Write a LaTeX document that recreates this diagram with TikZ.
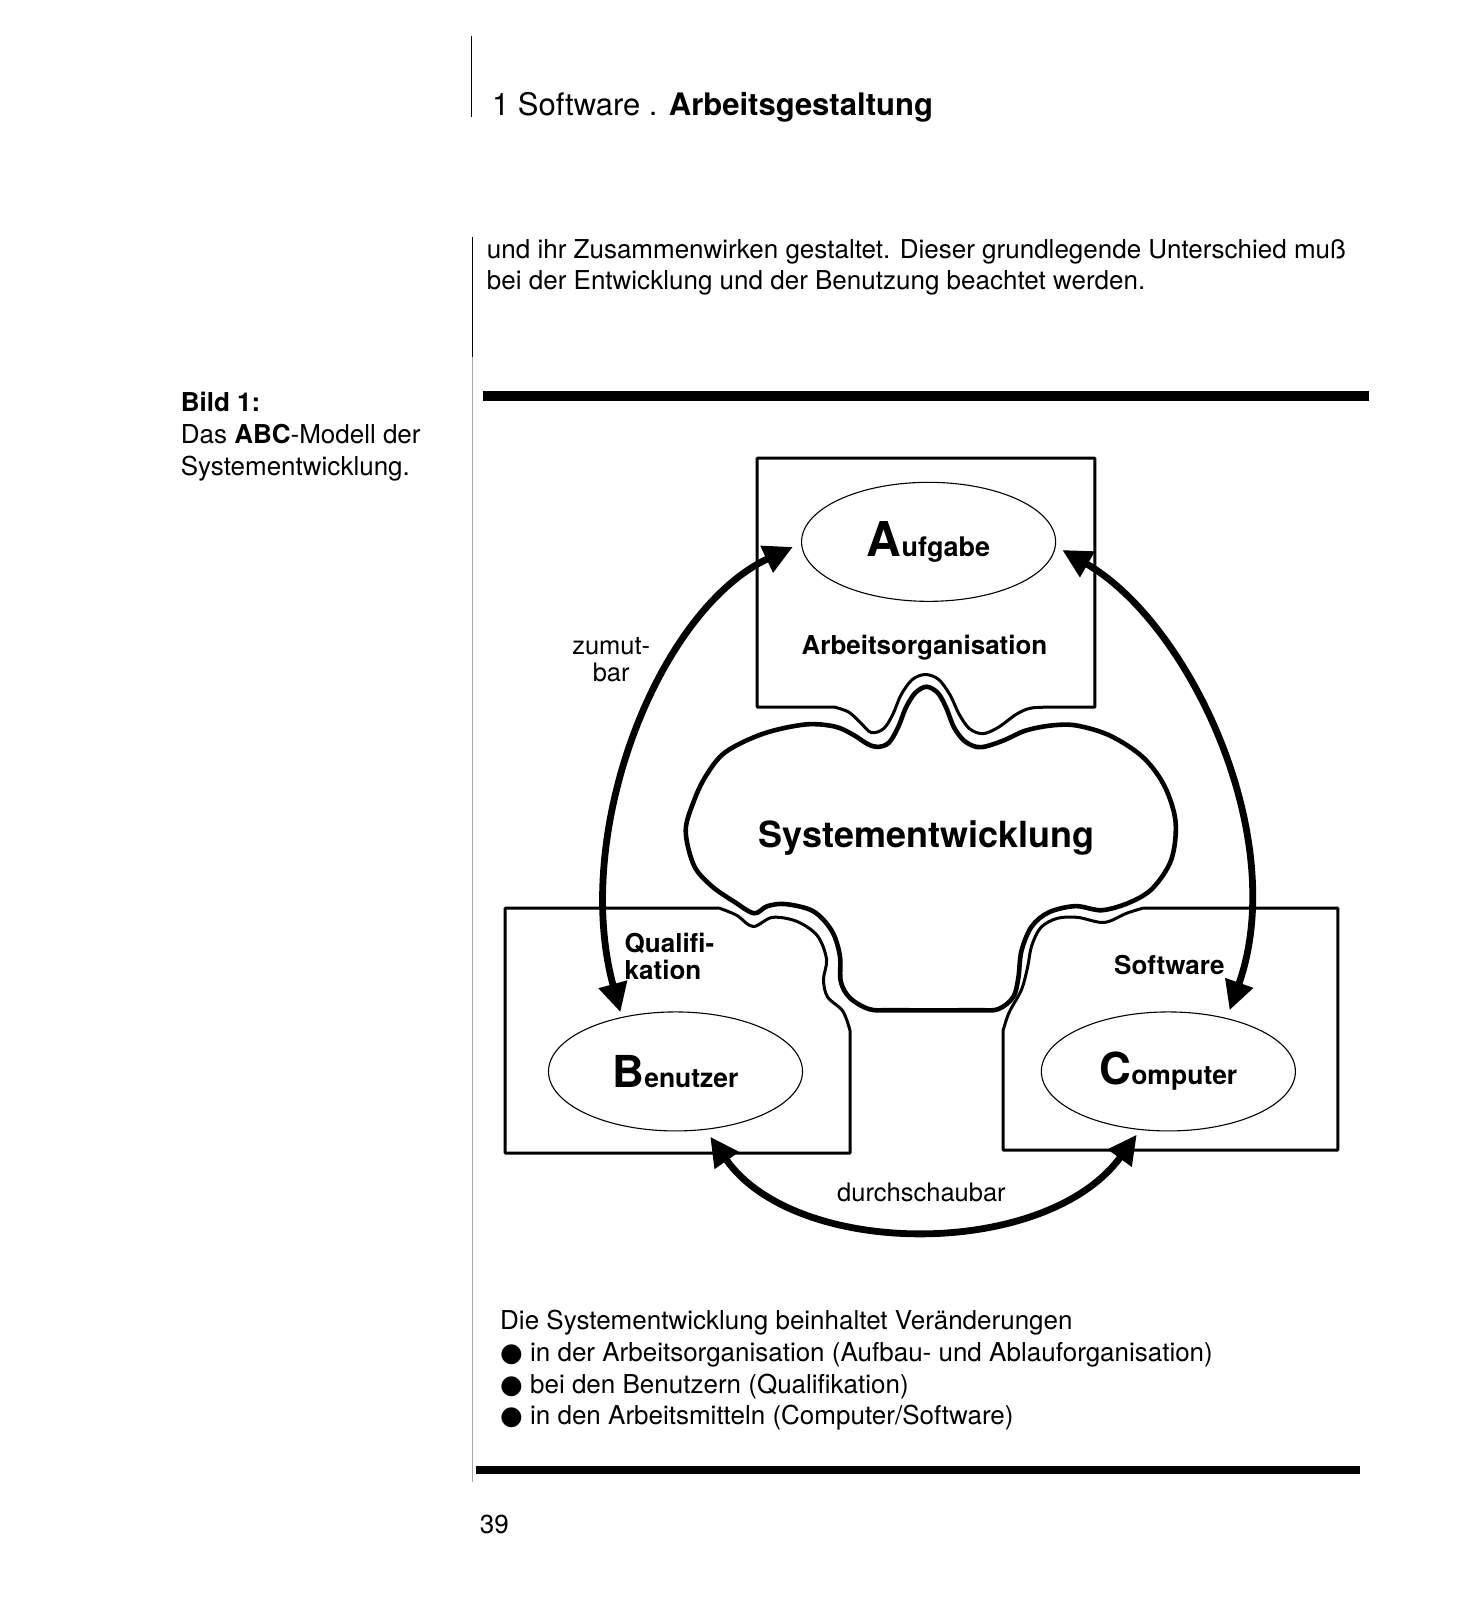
\documentclass[tikz,border=0pt]{standalone}
\usepackage{fontspec}
\setmainfont{TeX Gyre Heros}
\newfontfamily\dejavu{DejaVu Sans}
\usetikzlibrary{arrows.meta,shapes.geometric,calc}
\newcommand\myfs[2]{\fontsize{#1}{#2}\selectfont}
\begin{document}
\begin{tikzpicture}[x=1.0203pt,y=-1.0203pt,
  boxline/.style={line width=3pt, line join=round},
  cloudline/.style={line width=4.6pt, line join=round},
  ell/.style={draw, ellipse, line width=1.1pt, inner sep=0pt,
              minimum width=254pt, minimum height=119pt},
  bigarrow/.style={line width=6.8pt,
    {Triangle[length=29pt,width=28pt]}-{Triangle[length=29pt,width=28pt]}},
  txt/.style={inner sep=0pt, font=\myfs{26}{32}},
  lbl/.style={inner sep=0pt, font=\myfs{26}{27}\bfseries},
  rulebar/.style={line width=9.5pt}
]
\useasboundingbox[fill=white] (0,0) rectangle (1427,1568);

% ---------- page furniture ----------
\draw[line width=1pt] (462,35) -- (462,115);
\node[anchor=base west, inner sep=0pt, font=\myfs{31}{36}] (hdr) at (482,113)
  {1 Software . \textbf{Arbeitsgestaltung}};
\draw[line width=1pt] (463,232) -- (463,350);
\draw[line width=0.8pt, black!35] (463,350) -- (463,1452);
\node[txt, anchor=base west] (body1) at (477,253)
  {und ihr Zusammenwirken gestaltet. Dieser grundlegende Unterschied muß};
\node[txt, anchor=base west] (body2) at (477,284)
  {bei der Entwicklung und der Benutzung beachtet werden.};
\node[txt, anchor=north west, align=left] (cap) at (177,384)
  {\textbf{Bild 1:}\\Das \textbf{ABC}-Modell der\\Systementwicklung.};
\draw[rulebar] (473,388) -- (1342,388);
\draw[rulebar, line width=8pt] (466,1441) -- (1333,1441);
\node[txt, anchor=base west] (pg) at (470,1503) {39};

% ---------- boxes ----------
% Box A (Arbeitsorganisation)
\draw[boxline] (1030,693) -- (1073,693) -- (1073,449) -- (742,449) -- (742,693) -- (818,693)
  -- plot[smooth, tension=0.55] coordinates {(818,693) (832,698) (844,709) (854,718)
     (866,714) (875,700) (883,681) (894,666) (907,661) (920,666) (931,681) (940,700)
     (950,714) (963,719) (978,713) (996,700) (1010,694) (1030,693)};
% Box B (Benutzer)
\draw[boxline] (705,890) -- (495,890) -- (495,1130) -- (833,1130) -- (833,1010)
  -- plot[smooth, tension=0.55] coordinates {(833,1010) (826,991) (811,977) (807,960)
     (810,940) (801,917) (781,903) (757,899) (738,908) (722,897) (705,890)};
% Box C (Computer)
\draw[boxline] (1120,890) -- (1311,890) -- (1311,1127) -- (983,1127) -- (983,1010)
  -- plot[smooth, tension=0.55] coordinates {(983,1010) (989,992) (1001,970) (1007,948)
     (1011,927) (1020,909) (1036,900) (1056,899) (1082,904) (1104,895) (1120,890)};

% ---------- cloud ----------
\draw[cloudline] plot[smooth cycle, tension=0.55] coordinates {
  (672,814) (680,785) (692,760) (711,737) (748,719) (789,710) (818,712) (836,720)
  (850,729) (860,732) (871,728) (880,713) (888,693) (897,679) (908,673) (919,679)
  (927,693) (935,713) (945,726) (957,732) (968,731) (985,725) (1005,716) (1030,711) (1055,711)
  (1088,721) (1120,742) (1141,770) (1152,805) (1148,842) (1130,870) (1108,884)
  (1080,892) (1054,888) (1028,894) (1011,908) (1001,932) (998,958) (993,977)
  (978,989) (955,990) (875,990) (852,989) (833,978) (824,962) (823,936) (815,912)
  (797,893) (770,886) (752,888) (739,895) (720,884) (697,868) (680,848)};
\node[anchor=base, inner sep=0pt, font=\myfs{36}{40}\bfseries] (sys) at (908,831)
  {Systementwicklung};

% ---------- ellipses ----------
\node[ell] (eA) at (910,531) {\bfseries\myfs{48}{48}A\myfs{27}{27}ufgabe};
\node[ell] (eB) at (662,1050) {\bfseries\myfs{44}{44}B\myfs{26.5}{26.5}enutzer};
\node[ell] (eC) at (1145,1050) {\bfseries\myfs{44}{44}C\myfs{26.5}{26.5}omputer};

% ---------- labels ----------
\node[lbl, anchor=base] (ao) at (906,641) {Arbeitsorganisation};
\node[lbl, anchor=north west, align=left] (qual) at (612,914) {Qualifi-\\kation};
\node[lbl, anchor=base] (sw) at (1146,955) {Software};
\node[inner sep=0pt, align=center, font=\myfs{25.5}{27}] (zb) at (599,646) {zumut-\\bar};
\node[inner sep=0pt, anchor=base, font=\myfs{25.5}{27}] (db) at (903,1177) {durchschaubar};

% ---------- arrows ----------
\coordinate (l1) at (608,992);  \coordinate (l2) at (777,536);
\coordinate (r1) at (1041,539); \coordinate (r2) at (1205,990);
\coordinate (b1) at (696,1114); \coordinate (b2) at (1114,1112);
\draw[bigarrow] (l1) .. controls (560,815) and (645,598) .. (l2);
\draw[bigarrow] (r1) .. controls (1165,610) and (1265,820) .. (r2);
\draw[bigarrow] (b1) .. controls (780,1234) and (1025,1234) .. (b2);

% ---------- list ----------
\node[txt, anchor=north west, align=left, font=\myfs{26}{31.7}] (list) at (490,1284)
  {Die Systementwicklung beinhaltet Veränderungen\\
   {\dejavu ●} in der Arbeitsorganisation (Aufbau- und Ablauforganisation)\\
   {\dejavu ●} bei den Benutzern (Qualifikation)\\
   {\dejavu ●} in den Arbeitsmitteln (Computer/Software)};
\end{tikzpicture}
\end{document}
